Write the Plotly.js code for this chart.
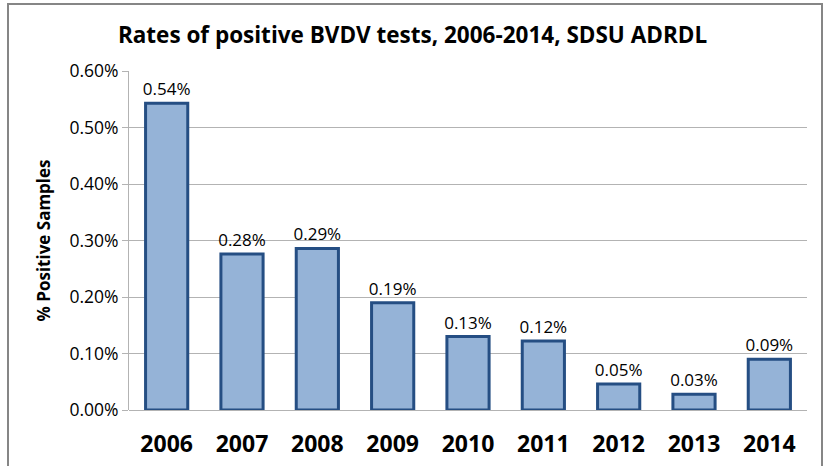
<!DOCTYPE html>
<html>
<head>
<meta charset="utf-8">
<script src="https://cdn.plot.ly/plotly-3.0.1.min.js"></script>
<style>html,body{margin:0;padding:0;background:#fff;}#chart{width:825px;height:466px;}</style>
</head>
<body>
<div id="chart"></div>
<script>
const years = ['2006','2007','2008','2009','2010','2011','2012','2013','2014'];
const rates = [0.00543, 0.00276, 0.00286, 0.0019, 0.0013, 0.00122, 0.00046, 0.00028, 0.0009];
const yTickVals = [0, 0.001, 0.002, 0.003, 0.004, 0.005, 0.006];

const L = 129, R = 807, T = 71, B = 410;
const px = x => (x - L) / (R - L);
const py = y => (B - y) / (B - T);
const FONT = 'Open Sans, sans-serif';

const trace = {
  type: 'bar',
  x: years,
  y: rates,
  width: 0.56,
  marker: {color: '#95B3D7', line: {color: '#254E83', width: 3}},
  texttemplate: '%{y:.2%}',
  textposition: 'outside',
  constraintext: 'none',
  cliponaxis: false,
  textfont: {family: FONT, size: 17, color: '#000'},
  hoverinfo: 'skip'
};

const layout = {
  width: 825, height: 466,
  margin: {l: L, r: 825 - R, t: T, b: 466 - B},
  paper_bgcolor: '#fff', plot_bgcolor: '#fff',
  showlegend: false,
  title: {text: '<b>Rates of positive BVDV tests, 2006-2014, SDSU ADRDL</b>',
          font: {family: FONT, size: 22.5, color: '#000'},
          x: 0.5, xanchor: 'center', y: 1 - 35/466, yanchor: 'middle'},
  xaxis: {type: 'category', showgrid: false, zeroline: false, showline: false, ticks: '',
          tickfont: {family: FONT, size: 23, color: '#000', weight: 'bold'},
          ticklabelstandoff: 18},
  yaxis: {range: [0, 0.006], tickvals: yTickVals, tickformat: '.2%',
          showgrid: true, gridcolor: '#B3B3B3', gridwidth: 1,
          zeroline: true, zerolinecolor: '#B3B3B3', zerolinewidth: 1,
          showline: true, linecolor: '#B3B3B3', linewidth: 1,
          ticks: 'outside', ticklen: 6, tickcolor: '#B3B3B3',
          tickfont: {family: FONT, size: 17.5, color: '#000'},
          title: {text: '<b>% Positive Samples</b>', standoff: 14,
                  font: {family: FONT, size: 17, color: '#000'}}},
  shapes: [{type: 'rect', xref: 'paper', yref: 'paper',
            x0: px(8), x1: px(822), y0: py(470), y1: py(4),
            line: {color: '#868686', width: 2}, fillcolor: 'rgba(0,0,0,0)', layer: 'below'}]
};

Plotly.newPlot('chart', [trace], layout, {staticPlot: true, displayModeBar: false});
</script>
</body>
</html>
